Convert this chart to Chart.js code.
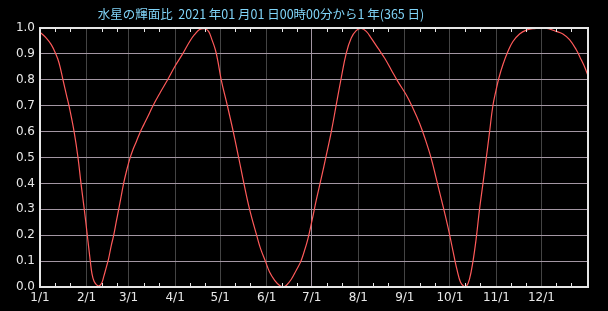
<!DOCTYPE html>
<html>
<head>
<meta charset="utf-8">
<script src="https://cdn.jsdelivr.net/npm/chart.js@4/dist/chart.umd.min.js"></script>
<style>
  html, body { margin: 0; padding: 0; background: #000; }
  #wrap { width: 608px; height: 311px; }
</style>
</head>
<body>
<div id="wrap"><canvas id="chart"></canvas></div>
<script>
// Day of year (0 = 1/1 00:00) and illuminated fraction of Mercury
const days = [
  0, 4.2, 7.6, 10.5, 12.7, 15.3, 17.6, 19.3, 22.7, 25.3, 27.3, 29.5, 31.5, 33.5, 34.6, 36, 37.5, 39, 40.9, 42.4,
  44.2, 45.7, 47.5, 49.1, 50.8, 52.4, 54, 55.7, 57.5, 59.7, 62, 64.2, 66.5, 69, 72, 75, 80, 85, 90,
  95, 99.7, 103, 106.3, 109.7, 112.3, 114.5, 116.8, 118.5, 120.7, 124.8, 128.7, 132.3, 135.8, 139.6,
  144.3, 146.9, 150.1, 152.9, 156.3, 159.6, 161.8, 164, 167.4, 170.7, 173.6, 175.6, 178.4, 181.3, 184,
  187.3, 190.7, 194, 197.3, 200.6, 204, 207.3, 210.6, 214, 217.3, 220.6, 225.1, 229.5, 234, 238.4,
  243.9, 248.4, 252.8, 256.8, 260.6, 263.9, 267.2, 270, 271.7, 273.4, 275.7, 277.9, 280.1, 282.3,
  284.1, 286.1, 288.3, 290.5, 292.7, 295, 297.2, 299.4, 301.6, 303.8, 305.6, 308.3, 311.7, 315,
  319.4, 323.9, 328.3, 333.8, 338.7, 343.8, 348.3, 352.7, 357.2, 360.5, 363.1, 365
];
const fraction = [
  0.984, 0.961, 0.935, 0.9, 0.865, 0.8, 0.742, 0.7, 0.6, 0.5, 0.4, 0.3, 0.2, 0.1, 0.052, 0.022, 0.009, 0.004, 0.013, 0.039,
  0.077, 0.11, 0.161, 0.2, 0.252, 0.3, 0.348, 0.4, 0.445, 0.493, 0.532, 0.562, 0.595, 0.625, 0.66, 0.697, 0.75, 0.8, 0.853,
  0.9, 0.948, 0.975, 0.994, 0.997, 0.987, 0.955, 0.916, 0.871, 0.8, 0.7, 0.6, 0.5, 0.4, 0.3,
  0.2, 0.148, 0.1, 0.058, 0.026, 0.006, 0.0, 0.006, 0.03, 0.065, 0.097, 0.13, 0.185, 0.26, 0.335,
  0.419, 0.509, 0.599, 0.703, 0.806, 0.903, 0.961, 0.99, 0.998, 0.987, 0.961, 0.922, 0.884, 0.838, 0.793,
  0.742, 0.69, 0.632, 0.567, 0.496, 0.419, 0.341, 0.275, 0.232, 0.186, 0.121, 0.063, 0.018, 0.003,
  0.003, 0.031, 0.096, 0.186, 0.298, 0.398, 0.496, 0.597, 0.698, 0.761, 0.806, 0.858, 0.91, 0.948,
  0.977, 0.992, 0.997, 1.0, 0.997, 0.987, 0.977, 0.955, 0.916, 0.877, 0.845, 0.815
];
// month starts (day of year) and their labels
const monthStarts = [0, 31, 59, 90, 120, 151, 181, 212, 243, 273, 304, 334];
const monthLabels = ["1/1", "2/1", "3/1", "4/1", "5/1", "6/1", "7/1", "8/1", "9/1", "10/1", "11/1", "12/1"];
const yTicks = [0, 0.1, 0.2, 0.3, 0.4, 0.5, 0.6, 0.7, 0.8, 0.9, 1.0];
const titleText = "水星の輝面比  2021 年01 月01 日00時00分から1 年(365 日)";

const GRID_H = "#a396a3";
const GRID_V = "#444444";
const FRAME = "#e6e6e6";

// title + small tick marks on 11th and 21st of each month, plus frame
const decor = {
  id: "decor",
  afterDraw(chart) {
    const { ctx, chartArea: a, scales: { x } } = chart;
    ctx.save();
    ctx.strokeStyle = FRAME;
    ctx.lineWidth = 1;
    ctx.beginPath();
    monthStarts.forEach(m => {
      [10, 20].forEach(off => {
        const px = Math.round(x.getPixelForValue(m + off)) + 0.5;
        ctx.moveTo(px, a.top); ctx.lineTo(px, a.top + 4);
        ctx.moveTo(px, a.bottom); ctx.lineTo(px, a.bottom - 4);
      });
    });
    ctx.stroke();
    ctx.lineWidth = 2;
    ctx.strokeRect(a.left, a.top, a.right - a.left, a.bottom - a.top);
    ctx.fillStyle = "#80d4f8";
    ctx.font = "12.5px 'Noto Sans CJK JP'";
    ctx.textAlign = "center";
    ctx.textBaseline = "middle";
    ctx.fillText(titleText, 261, 14);
    ctx.restore();
  }
};

new Chart(document.getElementById("chart").getContext("2d"), {
  type: "line",
  data: {
    datasets: [{
      data: days.map((d, i) => ({ x: d, y: fraction[i] })),
      borderColor: "#ff5a5a",
      borderWidth: 1.2,
      pointRadius: 0,
      tension: 0.4,
    }],
  },
  options: {
    responsive: true, maintainAspectRatio: false, animation: false,
    layout: { padding: { top: 28, right: 20, left: 0, bottom: 0 } },
    plugins: { legend: { display: false }, tooltip: { enabled: false } },
    scales: {
      x: {
        type: "linear", min: 0, max: 365,
        afterBuildTicks: s => { s.ticks = monthStarts.map(v => ({ value: v })); },
        afterFit: s => { s.height = 24; },
        border: { display: false },
        grid: { drawTicks: false, color: c => (c.tick && c.tick.value === 181 ? GRID_H : GRID_V) },
        ticks: {
          color: "#e8e8e8", padding: 4, maxRotation: 0, autoSkip: false,
          font: { family: "DejaVu Sans", size: 12 },
          callback: v => monthLabels[monthStarts.indexOf(v)],
        },
      },
      y: {
        min: 0, max: 1,
        afterBuildTicks: s => { s.ticks = yTicks.map(v => ({ value: v })); },
        afterFit: s => { s.width = 40; },
        border: { display: false },
        grid: { drawTicks: false, color: GRID_H },
        ticks: {
          color: "#e8e8e8", padding: 5,
          font: { family: "DejaVu Sans", size: 12 },
          callback: v => v.toFixed(1),
        },
      },
    },
  },
  plugins: [decor],
});
</script>
</body>
</html>
